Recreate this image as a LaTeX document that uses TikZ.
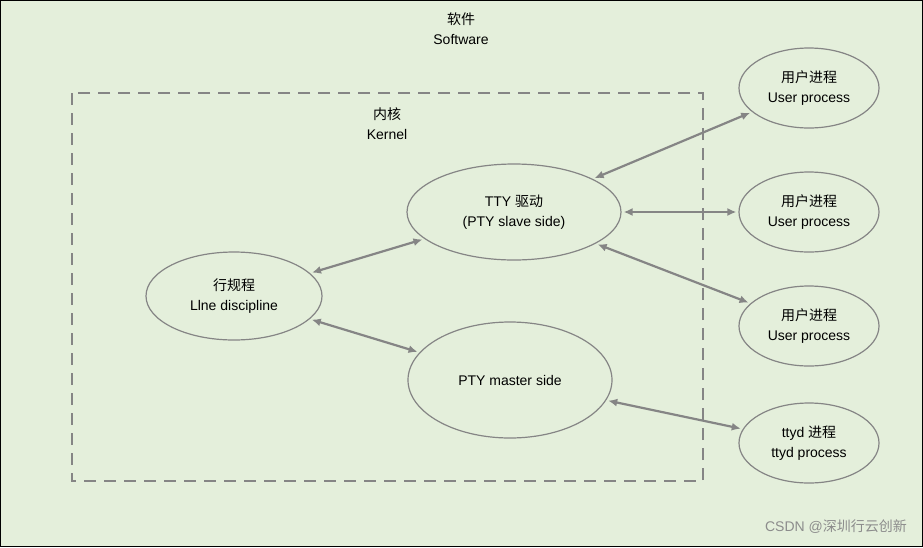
\documentclass[tikz,border=0pt]{standalone}
\usepackage{fontspec}
\setmainfont{Liberation Sans}
\newfontfamily\cjk{Noto Sans CJK SC}
\usetikzlibrary{shapes.geometric,arrows.meta}
\definecolor{bg}{HTML}{E4EFDB}
\definecolor{ln}{HTML}{858585}
\begin{document}
\begin{tikzpicture}[x=1pt,y=-1pt,
  el/.style={ellipse,draw=ln,line width=1.2pt,fill=bg,minimum width=#1,align=center,font=\fontsize{14}{20}\selectfont,inner sep=0pt},
  ar/.style={draw=ln,line width=2.2pt,{Latex[length=9pt,width=8pt]}-{Latex[length=9pt,width=8pt]},shorten <=2pt,shorten >=2pt},
  lb/.style={align=center,font=\fontsize{14}{20}\selectfont}]
\useasboundingbox (0,0) rectangle (923,547);
\fill[bg] (0,0) rectangle (923,547);
\draw[line width=1pt] (0.5,0.5) rectangle (922.5,546.5);
\draw[ln,line width=1.3pt,dash pattern=on 12pt off 8pt] (72,93) rectangle (703,481);
\node[lb] (sw) at (461,29) {{\cjk 软件}\\Software};
\node[lb] (kn) at (387,124) {{\cjk 内核}\\Kernel};
\node[el=214pt,minimum height=96pt] (tty) at (514,212) {TTY {\cjk 驱动}\\(PTY slave side)};
\node[el=204pt,minimum height=116pt] (ms) at (510,380) {PTY master side};
\node[el=176pt,minimum height=88pt] (ld) at (234,296) {{\cjk 行规程}\\Llne discipline};
\node[el=140pt,minimum height=80pt] (u1) at (809,88) {{\cjk 用户进程}\\User process};
\node[el=140pt,minimum height=80pt] (u2) at (809,212) {{\cjk 用户进程}\\User process};
\node[el=140pt,minimum height=80pt] (u3) at (809,326) {{\cjk 用户进程}\\User process};
\node[el=140pt,minimum height=80pt] (td) at (809,443) {ttyd {\cjk 进程}\\ttyd process};
\draw[ar] (ld) -- (tty);
\draw[ar] (ld) -- (ms);
\draw[ar] (tty) -- (u1);
\draw[ar] (tty) -- (u2);
\draw[ar] (tty) -- (u3);
\draw[ar] (ms) -- (td);
\node[font=\fontsize{14}{17}\selectfont,text=black!45] (wm) at (836,527) {CSDN @{\cjk 深圳行云创新}};
\end{tikzpicture}
\end{document}
